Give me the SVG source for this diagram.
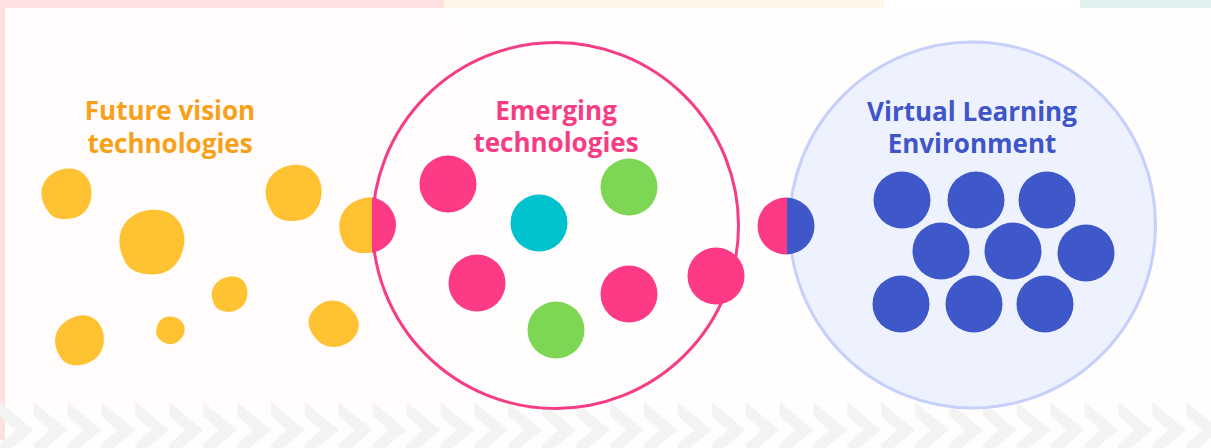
<svg xmlns="http://www.w3.org/2000/svg" width="1211" height="448" viewBox="0 0 1211 448">
<defs>
<style>
.t{font-family:"Open Sans","Liberation Sans",sans-serif;font-weight:700;font-size:26px;text-anchor:middle}
.yel{fill:#fec232}
.pk{fill:#fc3a86}
.bl{fill:#3f58c9}
.gr{fill:#7ed655}
.cy{fill:#00c2cc}
</style>
<path id="blob" d="M -28,-8 C -24,-22 -10,-30 4,-30 C 20,-30 30,-16 30,-2 C 30,12 24,24 10,28 C -2,31 -14,30 -20,22 C -26,14 -31,4 -28,-8 Z"/>
<path id="blob2" d="M -26,-14 C -18,-26 -4,-30 8,-29 C 22,-27 30,-14 29,0 C 28,14 20,26 4,29 C -10,31 -22,28 -27,16 C -31,6 -32,-4 -26,-14 Z"/>
<pattern id="chev" patternUnits="userSpaceOnUse" x="-0.2" y="402" width="33.9" height="80">
<polygon points="0,0 34,28 0,56 0,42 16,28 0,14" fill="#f3f3f3"/>
</pattern>
<clipPath id="cl1"><rect x="300" y="150" width="72" height="120"/></clipPath>
<clipPath id="cr1"><rect x="372" y="150" width="60" height="120"/></clipPath>
<clipPath id="cl2"><rect x="740" y="150" width="47" height="120"/></clipPath>
<clipPath id="cr2"><rect x="787" y="150" width="60" height="120"/></clipPath>
</defs>
<g id="background">
<rect x="0" y="0" width="1211" height="448" fill="#fffefc"/>
<rect x="0" y="0" width="444" height="8" fill="#fde0e0"/>
<rect x="444" y="0" width="440" height="8" fill="#fff6e8"/>
<rect x="884" y="0" width="196" height="8" fill="#ffffff"/>
<rect x="1080" y="0" width="131" height="8" fill="#e0f0ef"/>
<rect x="0" y="0" width="5" height="440" fill="#fde0e0"/>
<path d="M5,8 L445,8 C470,80 490,160 480,260 C475,320 465,370 455,404 L5,404 Z" fill="#fffcfb"/>
<rect x="0" y="402" width="1211" height="46" fill="url(#chev)"/>
</g>
<g id="emerging-circle">
<circle cx="555.5" cy="225.5" r="183" fill="none" stroke="#f53d86" stroke-width="3"/>
</g>
<g id="vle-circle">
<circle cx="972.5" cy="225" r="183" fill="#eef2fe" stroke="#c6d0fb" stroke-width="3"/>
</g>
<g id="future-vision">
<text class="t" x="170" y="120" fill="#f7a11a">Future vision</text>
<text class="t" x="170" y="153" fill="#f7a11a">technologies</text>
<use href="#blob" class="yel" transform="translate(66,194) scale(0.85)"/>
<use href="#blob" class="yel" transform="translate(151,242) scale(1.1) rotate(10)"/>
<use href="#blob" class="yel" transform="translate(293,193) scale(0.95) rotate(5)"/>
<use href="#blob2" class="yel" transform="translate(230,294) scale(0.6)"/>
<use href="#blob2" class="yel" transform="translate(80,340) scale(0.83) rotate(-10)"/>
<use href="#blob" class="yel" transform="translate(170,330) scale(0.47) rotate(40)"/>
<use href="#blob2" class="yel" transform="translate(334,324) scale(0.8) rotate(60)"/>
</g>
<g id="bridge-yellow-pink">
<g clip-path="url(#cl1)"><use href="#blob2" class="yel" transform="translate(368,225) scale(0.95)"/></g>
<circle cx="368" cy="225" r="28" class="pk" clip-path="url(#cr1)"/>
</g>
<g id="emerging">
<text class="t" x="556" y="120" fill="#f53d86">Emerging</text>
<text class="t" x="556" y="152" fill="#f53d86">technologies</text>
<circle cx="448" cy="184" r="28.5" class="pk"/>
<circle cx="539" cy="223" r="28.5" class="cy"/>
<circle cx="629" cy="187" r="28.5" class="gr"/>
<circle cx="477" cy="283" r="28.5" class="pk"/>
<circle cx="556" cy="330" r="28.5" class="gr"/>
<circle cx="629" cy="294" r="28.5" class="pk"/>
<circle cx="716" cy="276" r="28.5" class="pk"/>
</g>
<g id="bridge-pink-blue">
<circle cx="786" cy="226" r="28.5" class="pk" clip-path="url(#cl2)"/>
<circle cx="786" cy="226" r="28.5" class="bl" clip-path="url(#cr2)"/>
</g>
<g id="vle">
<text class="t" x="972" y="121" fill="#3f55c8">Virtual Learning</text>
<text class="t" x="972" y="153" fill="#3f55c8">Environment</text>
<circle cx="902" cy="200" r="28.5" class="bl"/>
<circle cx="976" cy="200" r="28.5" class="bl"/>
<circle cx="1047" cy="200" r="28.5" class="bl"/>
<circle cx="941" cy="251" r="28.5" class="bl"/>
<circle cx="1013" cy="251" r="28.5" class="bl"/>
<circle cx="1086" cy="253" r="28.5" class="bl"/>
<circle cx="901" cy="304" r="28.5" class="bl"/>
<circle cx="974" cy="304" r="28.5" class="bl"/>
<circle cx="1045" cy="304" r="28.5" class="bl"/>
</g>
</svg>
